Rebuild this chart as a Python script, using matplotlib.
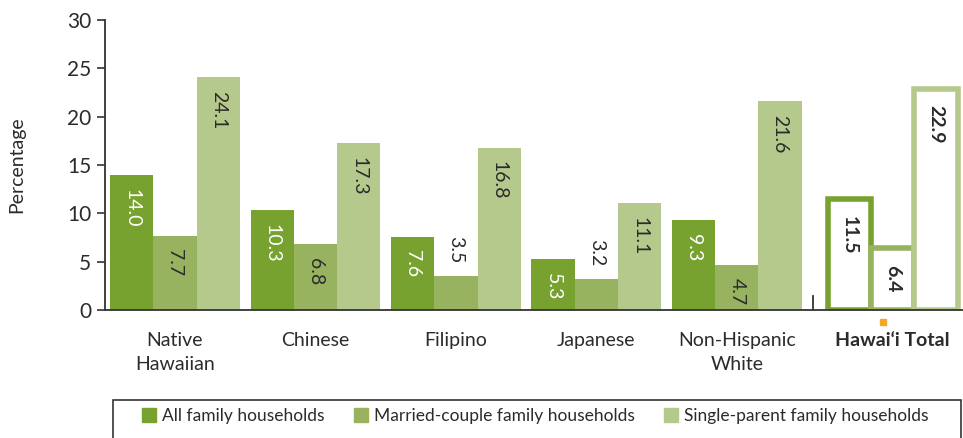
import matplotlib
matplotlib.use("Agg")
import matplotlib.pyplot as plt
from matplotlib.patches import Rectangle
import numpy as np

plt.rcParams['font.family'] = ['Lato', 'DejaVu Sans']

categories = ["Native\nHawaiian", "Chinese", "Filipino", "Japanese", "Non-Hispanic\nWhite", "Hawai\u2018i Total"]
series_names = ["All family households", "Married-couple family households", "Single-parent family households"]
all_family = [14.0, 10.3, 7.6, 5.3, 9.3, 11.5]
married = [7.7, 6.8, 3.5, 3.2, 4.7, 6.4]
single = [24.1, 17.3, 16.8, 11.1, 21.6, 22.9]
yticks = [0, 5, 10, 15, 20, 25, 30]

colors = ["#78a22f", "#97b35f", "#b6c98c"]
text_col = "#2b2b2b"

fig = plt.figure(figsize=(9.63, 4.38), dpi=100)
ax = fig.add_axes([105/963, 128/438, 1 - 105/963, (310-20)/438])

x = np.arange(len(categories), dtype=float)
x[-1] = 5.11
w = 0.308
series = [all_family, married, single]
n = len(categories)
for i, (vals, col) in enumerate(zip(series, colors)):
    xs = x + (i - 1) * w
    for j in range(n):
        is_total = (j == n - 1)
        if is_total:
            ax.bar(xs[j], vals[j], width=w, facecolor="white", edgecolor=col, linewidth=4, zorder=2)
        else:
            ax.bar(xs[j], vals[j], width=w, color=col, linewidth=0, zorder=2)
        v = vals[j]
        tc = "white" if (i == 0 and not is_total) else text_col
        weight = "bold" if is_total else "normal"
        if v < 4:
            ax.annotate(f"{v:.1f}", (xs[j], v), xytext=(0, 9), textcoords="offset points",
                        rotation=270, ha="center", va="bottom", fontsize=14, color=tc, fontweight=weight)
        else:
            off = -12 if is_total else -10
            ax.annotate(f"{v:.1f}", (xs[j], v), xytext=(0, off), textcoords="offset points",
                        rotation=270, ha="center", va="top", fontsize=14, color=tc, fontweight=weight)

ax.set_xlim(-0.498, 5.61)
ax.set_ylim(0, 30)
ax.set_yticks(yticks)
ax.set_yticklabels([str(t) for t in yticks], fontsize=15, color=text_col)
ax.set_xticks(x)
ax.set_xticklabels(categories, fontsize=14, color=text_col, linespacing=1.45)
ax.get_xticklabels()[-1].set_fontweight("bold")
ax.tick_params(axis="x", length=0, pad=16)
ax.tick_params(axis="y", length=6, width=1.2, color="#333333", direction="out", pad=4)
for s in ["top", "right"]:
    ax.spines[s].set_visible(False)
ax.spines["left"].set_color("#333333")
ax.spines["left"].set_linewidth(1.3)
ax.spines["bottom"].set_color("#333333")
ax.spines["bottom"].set_linewidth(1.3)
ax.set_ylabel("Percentage", fontsize=14, color=text_col, labelpad=30)

# small divider tick before the total group
ax.axvline(4.54, ymin=0, ymax=0.05, color="#333333", linewidth=1.3)
# small orange marker below Hawai'i Total
ax.plot([x[-1] - 0.07], [-1.25], marker="s", markersize=4, color="#f5a623", clip_on=False, zorder=5)

# legend box
rect = Rectangle((113/963, -0.05), 848/963, 0.05 + 38/438, transform=fig.transFigure,
                 facecolor="none", edgecolor="#333333", linewidth=1.2)
fig.patches.append(rect)
legend_x = [142, 354, 664]
for name, c, lx in zip(series_names, colors, legend_x):
    fig.legend([Rectangle((0, 0), 1, 1, color=c)], [name], loc="center left",
               bbox_to_anchor=(lx/963, 1 - 416/438), frameon=False, fontsize=12.5,
               handlelength=0.8, handleheight=0.8, handletextpad=0.35,
               borderpad=0, borderaxespad=0, labelcolor=text_col)

fig.savefig("out.png", dpi=100)
